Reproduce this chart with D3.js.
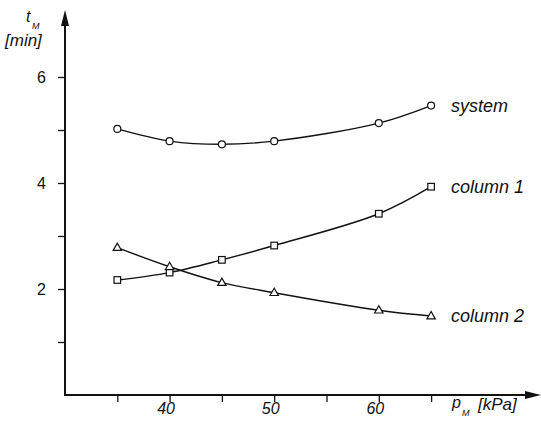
<!DOCTYPE html>
<html>
<head>
<meta charset="utf-8">
<script src="https://cdn.jsdelivr.net/npm/d3@7"></script>
<style>
  body { margin: 0; background: #fff; }
  text { font-family: "Liberation Sans", Arial, sans-serif; fill: #111; }
</style>
</head>
<body>
<svg id="drawing_region"></svg>
<script>
// pressure p_M [kPa]
const pressures = [35, 40, 45, 50, 60, 65];
// retention times t_M [min]
const systemTimes  = [5.02, 4.79, 4.73, 4.79, 5.13, 5.46];
const column1Times = [2.17, 2.31, 2.55, 2.82, 3.42, 3.93];
const column2Times = [2.78, 2.42, 2.12, 1.93, 1.60, 1.49];
const seriesNames  = ["system", "column 1", "column 2"];
const xTicks = [35, 40, 45, 50, 55, 60, 65];
const xTickLabels = ["", "40", "", "50", "", "60", ""];
const yTicks = [1, 2, 3, 4, 5, 6];
const yTickLabels = ["", "2", "", "4", "", "6"];

const width = 541, height = 430;
const svg = d3.select('#drawing_region')
    .attr('width', width)
    .attr('height', height);

const x0 = 65, y0 = 395;
const xscale = d3.scaleLinear().domain([30, 65]).range([x0, x0 + 35 * 10.46]);
const yscale = d3.scaleLinear().domain([0, 6]).range([y0, y0 - 6 * 53]);

// axes lines with arrows
svg.append('line')
    .attr('x1', x0).attr('y1', y0).attr('x2', x0).attr('y2', 18)
    .attr('stroke', '#111').attr('stroke-width', 2);
svg.append('path')
    .attr('d', `M${x0},10 L${x0 - 4},26 L${x0 + 4},26 Z`)
    .attr('fill', '#111');
svg.append('line')
    .attr('x1', x0 - 1).attr('y1', y0).attr('x2', 530).attr('y2', y0)
    .attr('stroke', '#111').attr('stroke-width', 2);
svg.append('path')
    .attr('d', `M541,${y0} L525,${y0 - 4} L525,${y0 + 4} Z`)
    .attr('fill', '#111');

// x ticks
const xaxis = d3.axisBottom(xscale)
    .tickValues(xTicks)
    .tickSize(7)
    .tickFormat((d, i) => xTickLabels[i]);
const xg = svg.append('g')
    .attr('transform', `translate(0, ${y0})`)
    .call(xaxis);
xg.select('.domain').remove();
xg.selectAll('.tick line').attr('stroke', '#111').attr('stroke-width', 1.3);
xg.selectAll('.tick text')
    .attr('y', 8)
    .attr('x', -4)
    .style('font-size', '16px')
    .style('font-style', 'italic');

// y ticks
const yaxis = d3.axisLeft(yscale)
    .tickValues(yTicks)
    .tickSize(7)
    .tickFormat((d, i) => yTickLabels[i]);
const yg = svg.append('g')
    .attr('transform', `translate(${x0}, 0)`)
    .call(yaxis);
yg.select('.domain').remove();
yg.selectAll('.tick line').attr('stroke', '#111').attr('stroke-width', 1.3);
yg.selectAll('.tick text')
    .attr('x', -19)
    .style('font-size', '16px');

// axis titles
svg.append('text').attr('x', 26).attr('y', 22)
    .style('font-size', '16px').style('font-style', 'italic').text('t');
svg.append('text').attr('x', 32).attr('y', 29)
    .style('font-size', '9px').style('font-style', 'italic').text('M');
svg.append('text').attr('x', 5).attr('y', 46)
    .style('font-size', '17px').style('font-style', 'italic').text('[min]');

svg.append('text').attr('x', 452).attr('y', 408)
    .style('font-size', '16px').style('font-style', 'italic').text('p');
svg.append('text').attr('x', 462).attr('y', 416)
    .style('font-size', '9px').style('font-style', 'italic').text('M');
svg.append('text').attr('x', 478).attr('y', 410)
    .style('font-size', '17px').style('font-style', 'italic').text('[kPa]');

// series
const allSeries = [systemTimes, column1Times, column2Times];
const markers = ['circle', 'square', 'triangle'];
const line = d3.line()
    .x(d => xscale(d[0]))
    .y(d => yscale(d[1]))
    .curve(d3.curveCatmullRom.alpha(0.5));

allSeries.forEach((vals, s) => {
    const pts = pressures.map((p, i) => [p, vals[i]]);
    svg.append('path')
        .datum(pts)
        .attr('d', line)
        .attr('fill', 'none')
        .attr('stroke', '#111')
        .attr('stroke-width', 1.4);

    const g = svg.append('g');
    pts.forEach(d => {
        const cx = xscale(d[0]), cy = yscale(d[1]);
        if (markers[s] === 'circle') {
            g.append('circle').attr('cx', cx).attr('cy', cy).attr('r', 3.5)
                .attr('fill', '#fff').attr('stroke', '#111').attr('stroke-width', 1.2);
        } else if (markers[s] === 'square') {
            g.append('rect').attr('x', cx - 3.3).attr('y', cy - 3.3)
                .attr('width', 6.6).attr('height', 6.6)
                .attr('fill', '#fff').attr('stroke', '#111').attr('stroke-width', 1.2);
        } else {
            g.append('path')
                .attr('d', `M${cx},${cy - 4.5} L${cx - 4.2},${cy + 2.8} L${cx + 4.2},${cy + 2.8} Z`)
                .attr('fill', '#fff').attr('stroke', '#111').attr('stroke-width', 1.2);
        }
    });

    const last = pts[pts.length - 1];
    svg.append('text')
        .attr('x', 451)
        .attr('y', yscale(last[1]) + 6)
        .style('font-size', '18px')
        .style('font-style', 'italic')
        .text(seriesNames[s]);
});
</script>
</body>
</html>
